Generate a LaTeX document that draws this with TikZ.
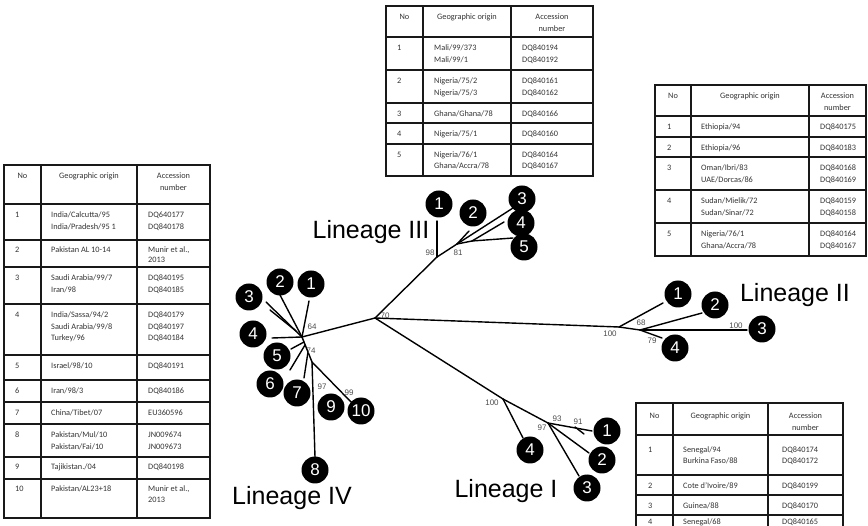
\documentclass[tikz,border=0pt]{standalone}
\usepackage{fontspec}
\setmainfont{Liberation Sans}
\newfontfamily\tabfont{Carlito}
\newcount\cellcnt
\newcommand\tcell[3]{\global\advance\cellcnt by 1 \node[tabtext] (tc\the\cellcnt) at (#1,#2) {#3};}
\newcommand\thead[3]{\global\advance\cellcnt by 1 \node[tabhead] (tc\the\cellcnt) at (#1,#2) {#3};}
\begin{document}
\begin{tikzpicture}[x=1pt,y=-1pt,
  branch/.style={line width=1.4pt, black, line cap=round},
  leaf/.style={circle, fill=black, draw=none, minimum size=27pt, inner sep=0pt, text=white, font=\fontsize{17}{17}\selectfont},
  boot/.style={font=\fontsize{8}{8}\selectfont, text=black!70, inner sep=0pt},
  lin/.style={font=\fontsize{25}{25}\selectfont, inner sep=0pt},
  tabline/.style={line width=1.8pt, black!90},
  tabtext/.style={font=\tabfont\fontsize{8.3}{10}\selectfont, text=black!80, inner sep=0pt, anchor=base west},
  tabhead/.style={font=\tabfont\fontsize{8.3}{10}\selectfont, text=black!80, inner sep=0pt, anchor=base}]
\useasboundingbox (0,0) rectangle (868,526);
\clip (0,0) rectangle (868,526);

% ================= Left table (Lineage IV)
\draw[tabline] (4,165) rectangle (210,518);
\foreach \x in {41,137} \draw[tabline] (\x,165) -- (\x,518);
\foreach \y in {204,240,267,304,355,380,402,424,457,479} \draw[tabline] (4,\y) -- (210,\y);
\thead{22.5}{179}{No}
\thead{89}{179}{Geographic origin}
\thead{173.5}{179}{Accession}
\thead{173.5}{190.5}{number}
\tcell{15}{218}{1}\tcell{51}{218}{India/Calcutta/95}\tcell{51}{229.5}{India/Pradesh/95 1}
\tcell{148}{218}{DQ640177}\tcell{148}{229.5}{DQ840178}
\tcell{15}{252.5}{2}\tcell{51}{252.5}{Pakistan AL 10-14}\tcell{148}{252.5}{Munir et al.,}\tcell{148}{263}{2013}
\tcell{15}{281}{3}\tcell{51}{281}{Saudi Arabia/99/7}\tcell{51}{292.5}{Iran/98}
\tcell{148}{281}{DQ840195}\tcell{148}{292.5}{DQ840185}
\tcell{15}{318}{4}\tcell{51}{318}{India/Sassa/94/2}\tcell{51}{329.5}{Saudi Arabia/99/8}\tcell{51}{341}{Turkey/96}
\tcell{148}{318}{DQ840179}\tcell{148}{329.5}{DQ840197}\tcell{148}{341}{DQ840184}
\tcell{15}{369}{5}\tcell{51}{369}{Israel/98/10}\tcell{148}{369}{DQ840191}
\tcell{15}{394}{6}\tcell{51}{394}{Iran/98/3}\tcell{148}{394}{DQ840186}
\tcell{15}{416}{7}\tcell{51}{416}{China/Tibet/07}\tcell{148}{416}{EU360596}
\tcell{15}{438}{8}\tcell{51}{438}{Pakistan/Mul/10}\tcell{51}{449.5}{Pakistan/Fai/10}
\tcell{148}{438}{JN009674}\tcell{148}{449.5}{JN009673}
\tcell{15}{470}{9}\tcell{51}{470}{Tajikistan./04}\tcell{148}{470}{DQ840198}
\tcell{15}{492}{10}\tcell{51}{492}{Pakistan/AL23+18}\tcell{148}{492}{Munir et al.,}\tcell{148}{503}{2013}

% ================= Top table (Lineage III)
\draw[tabline] (386,6) rectangle (593,176);
\foreach \x in {423,511} \draw[tabline] (\x,6) -- (\x,176);
\foreach \y in {37,70,103,123,144} \draw[tabline] (386,\y) -- (593,\y);
\thead{404.5}{20}{No}
\thead{467}{20}{Geographic origin}
\thead{552}{20}{Accession}
\thead{552}{31.5}{number}
\tcell{397}{51}{1}\tcell{434}{51}{Mali/99/373}\tcell{434}{62.5}{Mali/99/1}
\tcell{522}{51}{DQ840194}\tcell{522}{62.5}{DQ840192}
\tcell{397}{84}{2}\tcell{434}{84}{Nigeria/75/2}\tcell{434}{95.5}{Nigeria/75/3}
\tcell{522}{84}{DQ840161}\tcell{522}{95.5}{DQ840162}
\tcell{397}{116.5}{3}\tcell{434}{116.5}{Ghana/Ghana/78}\tcell{522}{116.5}{DQ840166}
\tcell{397}{137}{4}\tcell{434}{137}{Nigeria/75/1}\tcell{522}{137}{DQ840160}
\tcell{397}{157.5}{5}\tcell{434}{157.5}{Nigeria/76/1}\tcell{434}{169}{Ghana/Accra/78}
\tcell{522}{157.5}{DQ840164}\tcell{522}{169}{DQ840167}

% ================= Right table (Lineage II)
\draw[tabline] (655,85) rectangle (866,256);
\foreach \x in {691,809} \draw[tabline] (\x,85) -- (\x,256);
\foreach \y in {116,137,157,190,223} \draw[tabline] (655,\y) -- (866,\y);
\thead{673}{99}{No}
\thead{750}{99}{Geographic origin}
\thead{837.5}{99}{Accession}
\thead{837.5}{110.5}{number}
\tcell{667}{130}{1}\tcell{701}{130}{Ethiopia/94}\tcell{820}{130}{DQ840175}
\tcell{667}{150.5}{2}\tcell{701}{150.5}{Ethiopia/96}\tcell{820}{150.5}{DQ840183}
\tcell{667}{171}{3}\tcell{701}{171}{Oman/Ibri/83}\tcell{701}{182.5}{UAE/Dorcas/86}
\tcell{820}{171}{DQ840168}\tcell{820}{182.5}{DQ840169}
\tcell{667}{204}{4}\tcell{701}{204}{Sudan/Mielik/72}\tcell{701}{215.5}{Sudan/Sinar/72}
\tcell{820}{204}{DQ840159}\tcell{820}{215.5}{DQ840158}
\tcell{667}{237}{5}\tcell{701}{237}{Nigeria/76/1}\tcell{701}{248.5}{Ghana/Accra/78}
\tcell{820}{237}{DQ840164}\tcell{820}{248.5}{DQ840167}

% ================= Bottom-right table (Lineage I)
\draw[tabline] (636,403) rectangle (843,540);
\foreach \x in {673,768} \draw[tabline] (\x,403) -- (\x,540);
\foreach \y in {435,475,495,515} \draw[tabline] (636,\y) -- (843,\y);
\thead{654.5}{419}{No}
\thead{720.5}{419}{Geographic origin}
\thead{805.5}{419}{Accession}
\thead{805.5}{430.5}{number}
\tcell{648}{453}{1}\tcell{683}{453}{Senegal/94}\tcell{683}{464}{Burkina Faso/88}
\tcell{782}{453}{DQ840174}\tcell{782}{464}{DQ840172}
\tcell{648}{488.5}{2}\tcell{683}{488.5}{Cote d’Ivoire/89}\tcell{782}{488.5}{DQ840199}
\tcell{648}{508.5}{3}\tcell{683}{508.5}{Guinea/88}\tcell{782}{508.5}{DQ840170}
\tcell{648}{524.5}{4}\tcell{683}{524.5}{Senegal/68}\tcell{782}{524.5}{DQ840165}

% ================= Tree
\coordinate (R) at (375,318);
% Lineage IV
\coordinate (A) at (302,337);
\coordinate (C) at (312,362);
\coordinate (e41) at (309,301);
\coordinate (e42) at (280,295);
\coordinate (e43) at (266,302);
\coordinate (e43b) at (270,310);
\coordinate (e43c) at (296,331);
\coordinate (e44) at (272,338);
\coordinate (s45) at (304,342);
\coordinate (e45) at (291,349);
\coordinate (s46) at (305,345);
\coordinate (e46) at (290,370);
\coordinate (s47) at (308,352);
\coordinate (e47) at (304,378);
\coordinate (e48) at (315,457);
\coordinate (e410) at (352,403);
\draw[branch] (R) -- (A);
\draw[branch] (A) -- (e41);
\draw[branch] (A) -- (e42);
\draw[branch] (A) -- (e43);
\draw[branch] (e43c) -- (e43b);
\draw[branch] (A) -- (e44);
\draw[branch] (A) -- (C);
\draw[branch] (s45) -- (e45);
\draw[branch] (s46) -- (e46);
\draw[branch] (s47) -- (e47);
\draw[branch] (C) -- (e48);
\draw[branch] (C) -- (e410);
\node[leaf] (iv1) at (311,284) {1};
\node[leaf] (iv2) at (280,282) {2};
\node[leaf] (iv3) at (249,297) {3};
\node[leaf] (iv4) at (253,334) {4};
\node[leaf] (iv5) at (277,356) {5};
\node[leaf] (iv6) at (270,384) {6};
\node[leaf] (iv7) at (297,393) {7};
\node[leaf] (iv8) at (315,470) {8};
\node[leaf] (iv9) at (331,407) {9};
\node[leaf] (iv10) at (361,411) {10};
\node[boot] (b64) at (312,327) {64};
\node[boot] (b74) at (311,351) {74};
\node[boot] (b97a) at (322,387) {97};
\node[boot] (b99) at (349,393) {99};

% Lineage III
\coordinate (D) at (437,257);
\coordinate (E) at (457,244);
\coordinate (F) at (472,241);
\coordinate (e31) at (437,221);
\coordinate (e32) at (469,231);
\coordinate (e33) at (513,208);
\coordinate (e34) at (504,222);
\coordinate (e35) at (513,238);
\draw[branch] (R) -- (D);
\draw[branch] (D) -- (e31);
\draw[branch] (D) -- (E);
\draw[branch] (E) -- (e32);
\draw[branch] (E) -- (e33);
\draw[branch] (E) -- (F);
\draw[branch] (F) -- (e34);
\draw[branch] (F) -- (e35);
\node[leaf] (iii1) at (439,204) {1};
\node[leaf] (iii2) at (473,213) {2};
\node[leaf] (iii3) at (522,199) {3};
\node[leaf] (iii4) at (521,223) {4};
\node[leaf] (iii5) at (524,247) {5};
\node[boot] (b98) at (430,253) {98};
\node[boot] (b81) at (458,253) {81};

% Lineage II
\coordinate (G) at (619,327);
\coordinate (H) at (640,330);
\coordinate (e21) at (663,303);
\coordinate (e22) at (702,313);
\coordinate (e23) at (747,330);
\coordinate (e24) at (662,338);
\draw[branch] (R) -- (G);
\draw[branch] (G) -- (e21);
\draw[branch] (G) -- (H);
\draw[branch] (H) -- (e22);
\draw[branch] (H) -- (e23);
\draw[branch] (H) -- (e24);
\node[leaf] (ii1) at (678,294) {1};
\node[leaf] (ii2) at (715,305) {2};
\node[leaf] (ii3) at (762,329) {3};
\node[leaf] (ii4) at (675,348) {4};
\node[boot] (b100b) at (610,334) {100};
\node[boot] (b68) at (641,323) {68};
\node[boot] (b79) at (652,341) {79};
\node[boot] (b100c) at (736,326) {100};

% Lineage I
\coordinate (J) at (503,399);
\coordinate (K) at (548,423);
\coordinate (e14) at (523,438);
\coordinate (e11) at (592,431);
\coordinate (t1a) at (575,427);
\coordinate (t1b) at (584,434);
\coordinate (e12) at (589,453);
\coordinate (e13) at (579,476);
\draw[branch] (R) -- (J);
\draw[branch] (J) -- (e14);
\draw[branch] (J) -- (K);
\draw[branch] (K) -- (e11);
\draw[branch] (t1a) -- (t1b);
\draw[branch] (K) -- (e12);
\draw[branch] (K) -- (e13);
\node[leaf] (i1) at (607,431) {1};
\node[leaf] (i2) at (602,460) {2};
\node[leaf] (i3) at (587,488) {3};
\node[leaf] (i4) at (530,450) {4};
\node[boot] (b100a) at (492,403) {100};
\node[boot] (b97b) at (542,428) {97};
\node[boot] (b93) at (557,419) {93};
\node[boot] (b91) at (578,422) {91};
\node[boot] (b70) at (385,316) {70};

% Lineage labels
\node[lin] (L3) at (371,232) {Lineage III};
\node[lin] (L2) at (795,295) {Lineage II};
\node[lin] (L4) at (292,498) {Lineage IV};
\node[lin] (L1) at (506,491) {Lineage I};
\end{tikzpicture}
\end{document}
